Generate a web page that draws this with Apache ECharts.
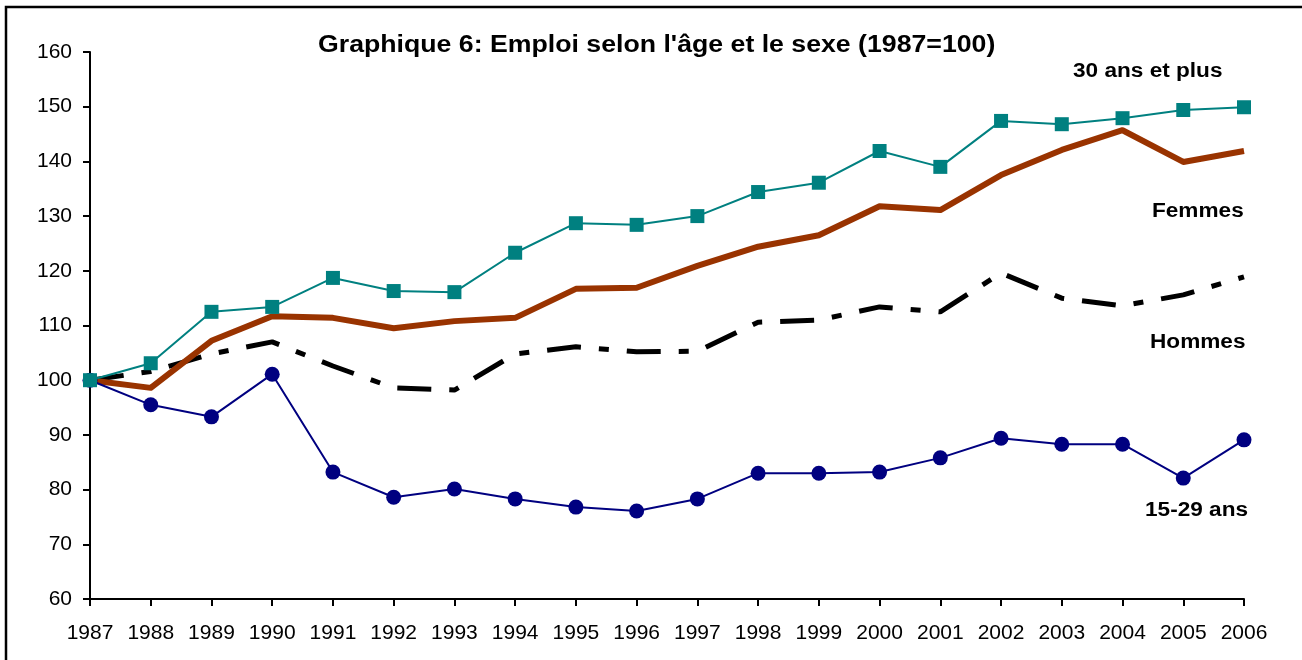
<!DOCTYPE html>
<html>
<head>
<meta charset="utf-8">
<title>Graphique 6</title>
<script src="https://cdn.jsdelivr.net/npm/echarts@6/dist/echarts.min.js"></script>
<style>
  html, body { margin: 0; padding: 0; background: #fff; }
  #chart { width: 1302px; height: 660px; }
</style>
</head>
<body>
<div id="chart"></div>
<script>
// données (indice 1987 = 100)
const years = ["1987", "1988", "1989", "1990", "1991", "1992", "1993", "1994", "1995", "1996",
  "1997", "1998", "1999", "2000", "2001", "2002", "2003", "2004", "2005", "2006"];

const plus30 = [100, 103.1, 112.5, 113.4, 118.7, 116.3, 116.1, 123.3, 128.7, 128.4,
  130.0, 134.4, 136.1, 141.9, 139.0, 147.4, 146.8, 147.9, 149.4, 149.9];

const femmes = [100, 98.6, 107.2, 111.7, 111.4, 109.5, 110.8, 111.4, 116.7, 116.9,
  120.9, 124.4, 126.5, 131.8, 131.1, 137.5, 142.1, 145.7, 139.9, 141.9];

const hommes = [100, 101.6, 104.8, 107.0, 102.6, 98.6, 98.2, 104.8, 106.1, 105.2,
  105.3, 110.6, 111.0, 113.4, 112.5, 119.6, 115.0, 113.6, 115.6, 118.9];

const jeunes = [100, 95.5, 93.3, 101.1, 83.2, 78.6, 80.1, 78.3, 76.8, 76.1,
  78.3, 83.0, 83.0, 83.2, 85.8, 89.4, 88.3, 88.3, 82.1, 89.1];

const seriesNames = ["Hommes", "Femmes", "15-29 ans", "30 ans et plus"];
const titleText = "Graphique 6: Emploi selon l'âge et le sexe (1987=100)";

const FONT = "Liberation Sans, Arial, sans-serif";

const chart = echarts.init(document.getElementById("chart"));

// texte gras un peu étiré en largeur, comme dans l'original
function boldText(text, x, y, size, stretch) {
  return {
    type: "text",
    x: x,
    y: y,
    scaleX: stretch,
    silent: true,
    style: {
      text: text,
      font: "bold " + size + "px " + FONT,
      fill: "#000",
      align: "left",
      verticalAlign: "top"
    }
  };
}

const option = {
  animation: false,
  backgroundColor: "#fff",
  grid: { left: 90, right: 58, top: 52, bottom: 61 },
  xAxis: {
    type: "category",
    data: years,
    boundaryGap: false,
    axisLine: { lineStyle: { color: "#000", width: 2 } },
    axisTick: { length: 7, lineStyle: { color: "#000", width: 2 } },
    axisLabel: { color: "#000", fontFamily: FONT, fontSize: 21, margin: 24 },
    splitLine: { show: false }
  },
  yAxis: {
    type: "value",
    min: 60,
    max: 160,
    interval: 10,
    axisLine: { show: true, lineStyle: { color: "#000", width: 2 } },
    axisTick: { show: true, length: 7, lineStyle: { color: "#000", width: 2 } },
    axisLabel: { color: "#000", fontFamily: FONT, fontSize: 21, margin: 18 },
    splitLine: { show: false }
  },
  series: [
    {
      name: seriesNames[0],
      type: "line",
      data: hommes,
      symbol: "none",
      lineStyle: { color: "#000", width: 5, type: [34, 18, 10, 18], cap: "butt" }
    },
    {
      name: seriesNames[1],
      type: "line",
      data: femmes,
      symbol: "none",
      lineStyle: { color: "#993300", width: 6, join: "round" }
    },
    {
      name: seriesNames[2],
      type: "line",
      data: jeunes,
      symbol: "circle",
      symbolSize: 15,
      itemStyle: { color: "#000080" },
      lineStyle: { color: "#000080", width: 2 }
    },
    {
      name: seriesNames[3],
      type: "line",
      data: plus30,
      symbol: "rect",
      symbolSize: 14,
      itemStyle: { color: "#008080" },
      lineStyle: { color: "#008080", width: 2 }
    }
  ],
  graphic: [
    {
      type: "rect",
      shape: { x: 6, y: 7, width: 1320, height: 680 },
      style: { fill: "none", stroke: "#000", lineWidth: 2.5 },
      silent: true
    },
    boldText(titleText, 318, 34, 23, 1.16),
    boldText(seriesNames[3], 1073, 61, 20, 1.13),
    boldText(seriesNames[1], 1152, 201, 20, 1.13),
    boldText(seriesNames[0], 1150, 332, 20, 1.13),
    boldText(seriesNames[2], 1145, 500, 20, 1.13)
  ]
};

chart.setOption(option);
</script>
</body>
</html>
